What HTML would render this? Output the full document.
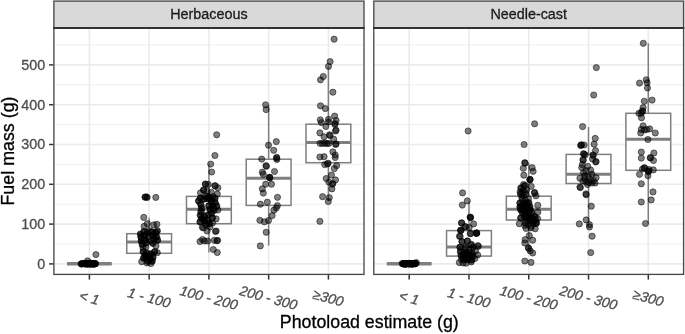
<!DOCTYPE html><html><head><meta charset="utf-8"><title>chart</title>
<style>html,body{margin:0;padding:0;background:#fff}svg{display:block;will-change:transform;opacity:0.9999}text{font-family:"Liberation Sans",sans-serif;stroke-width:0.3px;paint-order:stroke}</style></head><body>
<svg width="685" height="334" viewBox="0 0 685 334">
<rect x="0" y="0" width="685" height="334" fill="#fff"/>
<defs><filter id="soft" x="0" y="0" width="685" height="334" filterUnits="userSpaceOnUse"><feGaussianBlur stdDeviation="0.45"/></filter></defs>
<g filter="url(#soft)">
<rect x="-5" y="-5" width="695" height="344" fill="#fff"/>
<rect x="53.9" y="28.0" width="310.1" height="246.4" fill="#fff"/>
<line x1="53.9" x2="364.0" y1="244.00" y2="244.00" stroke="#EBEBEB" stroke-width="0.85"/>
<line x1="53.9" x2="364.0" y1="204.20" y2="204.20" stroke="#EBEBEB" stroke-width="0.85"/>
<line x1="53.9" x2="364.0" y1="164.40" y2="164.40" stroke="#EBEBEB" stroke-width="0.85"/>
<line x1="53.9" x2="364.0" y1="124.60" y2="124.60" stroke="#EBEBEB" stroke-width="0.85"/>
<line x1="53.9" x2="364.0" y1="84.80" y2="84.80" stroke="#EBEBEB" stroke-width="0.85"/>
<line x1="53.9" x2="364.0" y1="45.00" y2="45.00" stroke="#EBEBEB" stroke-width="0.85"/>
<line x1="53.9" x2="364.0" y1="263.90" y2="263.90" stroke="#EBEBEB" stroke-width="1.6"/>
<line x1="53.9" x2="364.0" y1="224.10" y2="224.10" stroke="#EBEBEB" stroke-width="1.6"/>
<line x1="53.9" x2="364.0" y1="184.30" y2="184.30" stroke="#EBEBEB" stroke-width="1.6"/>
<line x1="53.9" x2="364.0" y1="144.50" y2="144.50" stroke="#EBEBEB" stroke-width="1.6"/>
<line x1="53.9" x2="364.0" y1="104.70" y2="104.70" stroke="#EBEBEB" stroke-width="1.6"/>
<line x1="53.9" x2="364.0" y1="64.90" y2="64.90" stroke="#EBEBEB" stroke-width="1.6"/>
<line x1="89.40" x2="89.40" y1="28.0" y2="274.4" stroke="#EBEBEB" stroke-width="1.6"/>
<line x1="149.15" x2="149.15" y1="28.0" y2="274.4" stroke="#EBEBEB" stroke-width="1.6"/>
<line x1="208.90" x2="208.90" y1="28.0" y2="274.4" stroke="#EBEBEB" stroke-width="1.6"/>
<line x1="268.65" x2="268.65" y1="28.0" y2="274.4" stroke="#EBEBEB" stroke-width="1.6"/>
<line x1="328.40" x2="328.40" y1="28.0" y2="274.4" stroke="#EBEBEB" stroke-width="1.6"/>
<line x1="66.99" x2="111.81" y1="263.7" y2="263.7" stroke="#7F7F7F" stroke-width="3.4"/>
<line x1="149.15" x2="149.15" y1="217.7" y2="233.7" stroke="#7F7F7F" stroke-width="1.5"/>
<line x1="149.15" x2="149.15" y1="253.3" y2="263.5" stroke="#7F7F7F" stroke-width="1.5"/>
<rect x="126.74" y="233.7" width="44.81" height="19.60" fill="#fff" stroke="#7F7F7F" stroke-width="1.5"/>
<line x1="126.74" x2="171.56" y1="242.0" y2="242.0" stroke="#7F7F7F" stroke-width="3"/>
<line x1="208.90" x2="208.90" y1="164.2" y2="196.4" stroke="#7F7F7F" stroke-width="1.5"/>
<line x1="208.90" x2="208.90" y1="223.7" y2="252.5" stroke="#7F7F7F" stroke-width="1.5"/>
<rect x="186.49" y="196.4" width="44.81" height="27.30" fill="#fff" stroke="#7F7F7F" stroke-width="1.5"/>
<line x1="186.49" x2="231.31" y1="209.2" y2="209.2" stroke="#7F7F7F" stroke-width="3"/>
<line x1="268.65" x2="268.65" y1="105.0" y2="159.2" stroke="#7F7F7F" stroke-width="1.5"/>
<line x1="268.65" x2="268.65" y1="205.4" y2="245.6" stroke="#7F7F7F" stroke-width="1.5"/>
<rect x="246.24" y="159.2" width="44.81" height="46.20" fill="#fff" stroke="#7F7F7F" stroke-width="1.5"/>
<line x1="246.24" x2="291.06" y1="178.3" y2="178.3" stroke="#7F7F7F" stroke-width="3"/>
<line x1="328.40" x2="328.40" y1="66.4" y2="124.2" stroke="#7F7F7F" stroke-width="1.5"/>
<line x1="328.40" x2="328.40" y1="162.7" y2="200.6" stroke="#7F7F7F" stroke-width="1.5"/>
<rect x="305.99" y="124.2" width="44.81" height="38.50" fill="#fff" stroke="#7F7F7F" stroke-width="1.5"/>
<line x1="305.99" x2="350.81" y1="142.5" y2="142.5" stroke="#7F7F7F" stroke-width="3"/>
<rect x="373.8" y="28.0" width="309.8" height="246.4" fill="#fff"/>
<line x1="373.8" x2="683.6" y1="244.00" y2="244.00" stroke="#EBEBEB" stroke-width="0.85"/>
<line x1="373.8" x2="683.6" y1="204.20" y2="204.20" stroke="#EBEBEB" stroke-width="0.85"/>
<line x1="373.8" x2="683.6" y1="164.40" y2="164.40" stroke="#EBEBEB" stroke-width="0.85"/>
<line x1="373.8" x2="683.6" y1="124.60" y2="124.60" stroke="#EBEBEB" stroke-width="0.85"/>
<line x1="373.8" x2="683.6" y1="84.80" y2="84.80" stroke="#EBEBEB" stroke-width="0.85"/>
<line x1="373.8" x2="683.6" y1="45.00" y2="45.00" stroke="#EBEBEB" stroke-width="0.85"/>
<line x1="373.8" x2="683.6" y1="263.90" y2="263.90" stroke="#EBEBEB" stroke-width="1.6"/>
<line x1="373.8" x2="683.6" y1="224.10" y2="224.10" stroke="#EBEBEB" stroke-width="1.6"/>
<line x1="373.8" x2="683.6" y1="184.30" y2="184.30" stroke="#EBEBEB" stroke-width="1.6"/>
<line x1="373.8" x2="683.6" y1="144.50" y2="144.50" stroke="#EBEBEB" stroke-width="1.6"/>
<line x1="373.8" x2="683.6" y1="104.70" y2="104.70" stroke="#EBEBEB" stroke-width="1.6"/>
<line x1="373.8" x2="683.6" y1="64.90" y2="64.90" stroke="#EBEBEB" stroke-width="1.6"/>
<line x1="409.20" x2="409.20" y1="28.0" y2="274.4" stroke="#EBEBEB" stroke-width="1.6"/>
<line x1="468.97" x2="468.97" y1="28.0" y2="274.4" stroke="#EBEBEB" stroke-width="1.6"/>
<line x1="528.75" x2="528.75" y1="28.0" y2="274.4" stroke="#EBEBEB" stroke-width="1.6"/>
<line x1="588.52" x2="588.52" y1="28.0" y2="274.4" stroke="#EBEBEB" stroke-width="1.6"/>
<line x1="648.30" x2="648.30" y1="28.0" y2="274.4" stroke="#EBEBEB" stroke-width="1.6"/>
<line x1="386.78" x2="431.62" y1="263.7" y2="263.7" stroke="#7F7F7F" stroke-width="3.4"/>
<line x1="468.97" x2="468.97" y1="201.5" y2="230.6" stroke="#7F7F7F" stroke-width="1.5"/>
<line x1="468.97" x2="468.97" y1="256.1" y2="263.5" stroke="#7F7F7F" stroke-width="1.5"/>
<rect x="446.56" y="230.6" width="44.83" height="25.50" fill="#fff" stroke="#7F7F7F" stroke-width="1.5"/>
<line x1="446.56" x2="491.39" y1="247.0" y2="247.0" stroke="#7F7F7F" stroke-width="3"/>
<line x1="528.75" x2="528.75" y1="163.0" y2="196.2" stroke="#7F7F7F" stroke-width="1.5"/>
<line x1="528.75" x2="528.75" y1="220.0" y2="252.8" stroke="#7F7F7F" stroke-width="1.5"/>
<rect x="506.33" y="196.2" width="44.83" height="23.80" fill="#fff" stroke="#7F7F7F" stroke-width="1.5"/>
<line x1="506.33" x2="551.17" y1="209.3" y2="209.3" stroke="#7F7F7F" stroke-width="3"/>
<line x1="588.52" x2="588.52" y1="127.1" y2="154.4" stroke="#7F7F7F" stroke-width="1.5"/>
<line x1="588.52" x2="588.52" y1="183.5" y2="226.0" stroke="#7F7F7F" stroke-width="1.5"/>
<rect x="566.11" y="154.4" width="44.83" height="29.10" fill="#fff" stroke="#7F7F7F" stroke-width="1.5"/>
<line x1="566.11" x2="610.94" y1="174.2" y2="174.2" stroke="#7F7F7F" stroke-width="3"/>
<line x1="648.30" x2="648.30" y1="43.3" y2="113.3" stroke="#7F7F7F" stroke-width="1.5"/>
<line x1="648.30" x2="648.30" y1="170.3" y2="223.5" stroke="#7F7F7F" stroke-width="1.5"/>
<rect x="625.88" y="113.3" width="44.83" height="57.00" fill="#fff" stroke="#7F7F7F" stroke-width="1.5"/>
<line x1="625.88" x2="670.72" y1="139.3" y2="139.3" stroke="#7F7F7F" stroke-width="3"/>
<g fill="#000" fill-opacity="0.5" stroke="#000" stroke-opacity="0.5" stroke-width="1">
<circle cx="84.5" cy="263.7" r="3.1"/>
<circle cx="86.4" cy="263.8" r="3.1"/>
<circle cx="90.1" cy="263.4" r="3.1"/>
<circle cx="81.2" cy="263.9" r="3.1"/>
<circle cx="84.8" cy="263.5" r="3.1"/>
<circle cx="95.5" cy="263.7" r="3.1"/>
<circle cx="93.2" cy="263.7" r="3.1"/>
<circle cx="90.3" cy="263.5" r="3.1"/>
<circle cx="90.3" cy="263.9" r="3.1"/>
<circle cx="88.6" cy="263.8" r="3.1"/>
<circle cx="90.8" cy="263.4" r="3.1"/>
<circle cx="92.1" cy="263.8" r="3.1"/>
<circle cx="85.4" cy="263.4" r="3.1"/>
<circle cx="93.6" cy="263.7" r="3.1"/>
<circle cx="91.5" cy="263.9" r="3.1"/>
<circle cx="91.4" cy="264.0" r="3.1"/>
<circle cx="86.8" cy="263.9" r="3.1"/>
<circle cx="87.5" cy="264.0" r="3.1"/>
<circle cx="93.8" cy="263.5" r="3.1"/>
<circle cx="83.0" cy="263.5" r="3.1"/>
<circle cx="95.1" cy="263.7" r="3.1"/>
<circle cx="90.1" cy="263.6" r="3.1"/>
<circle cx="88.4" cy="263.6" r="3.1"/>
<circle cx="86.1" cy="263.8" r="3.1"/>
<circle cx="89.5" cy="263.9" r="3.1"/>
<circle cx="91.0" cy="264.0" r="3.1"/>
<circle cx="93.5" cy="264.0" r="3.1"/>
<circle cx="90.8" cy="263.5" r="3.1"/>
<circle cx="93.6" cy="264.0" r="3.1"/>
<circle cx="94.2" cy="263.7" r="3.1"/>
<circle cx="91.4" cy="263.5" r="3.1"/>
<circle cx="93.1" cy="263.7" r="3.1"/>
<circle cx="85.2" cy="263.4" r="3.1"/>
<circle cx="93.5" cy="264.0" r="3.1"/>
<circle cx="82.3" cy="263.9" r="3.1"/>
<circle cx="87.0" cy="263.5" r="3.1"/>
<circle cx="85.3" cy="263.9" r="3.1"/>
<circle cx="93.7" cy="263.4" r="3.1"/>
<circle cx="90.0" cy="263.4" r="3.1"/>
<circle cx="91.5" cy="263.6" r="3.1"/>
<circle cx="93.9" cy="264.0" r="3.1"/>
<circle cx="88.4" cy="264.0" r="3.1"/>
<circle cx="85.5" cy="263.4" r="3.1"/>
<circle cx="89.8" cy="263.4" r="3.1"/>
<circle cx="83.9" cy="263.6" r="3.1"/>
<circle cx="89.9" cy="263.5" r="3.1"/>
<circle cx="81.6" cy="263.9" r="3.1"/>
<circle cx="85.6" cy="264.0" r="3.1"/>
<circle cx="94.1" cy="263.6" r="3.1"/>
<circle cx="87.7" cy="263.7" r="3.1"/>
<circle cx="90.4" cy="263.8" r="3.1"/>
<circle cx="89.2" cy="263.8" r="3.1"/>
<circle cx="94.7" cy="263.7" r="3.1"/>
<circle cx="87.3" cy="263.8" r="3.1"/>
<circle cx="84.5" cy="263.6" r="3.1"/>
<circle cx="95.3" cy="263.7" r="3.1"/>
<circle cx="89.0" cy="263.4" r="3.1"/>
<circle cx="87.1" cy="263.7" r="3.1"/>
<circle cx="81.3" cy="263.8" r="3.1"/>
<circle cx="90.2" cy="263.4" r="3.1"/>
<circle cx="95.9" cy="254.6" r="3.1"/>
<circle cx="87.6" cy="260.9" r="3.1"/>
<circle cx="145.1" cy="197.2" r="3.1"/>
<circle cx="145.1" cy="197.1" r="3.1"/>
<circle cx="147.2" cy="197.5" r="3.1"/>
<circle cx="146.6" cy="196.9" r="3.1"/>
<circle cx="155.8" cy="197.4" r="3.1"/>
<circle cx="143.8" cy="217.4" r="3.1"/>
<circle cx="144.1" cy="226.4" r="3.1"/>
<circle cx="147.3" cy="223.7" r="3.1"/>
<circle cx="153.7" cy="224.9" r="3.1"/>
<circle cx="156.9" cy="224.3" r="3.1"/>
<circle cx="140.7" cy="234.5" r="3.1"/>
<circle cx="140.3" cy="234.0" r="3.1"/>
<circle cx="141.1" cy="237.3" r="3.1"/>
<circle cx="140.9" cy="237.3" r="3.1"/>
<circle cx="141.4" cy="241.1" r="3.1"/>
<circle cx="141.3" cy="240.9" r="3.1"/>
<circle cx="142.3" cy="244.0" r="3.1"/>
<circle cx="142.1" cy="244.7" r="3.1"/>
<circle cx="143.8" cy="231.7" r="3.1"/>
<circle cx="144.3" cy="231.7" r="3.1"/>
<circle cx="144.2" cy="235.9" r="3.1"/>
<circle cx="144.7" cy="235.6" r="3.1"/>
<circle cx="144.8" cy="239.8" r="3.1"/>
<circle cx="145.3" cy="239.9" r="3.1"/>
<circle cx="146.4" cy="242.7" r="3.1"/>
<circle cx="145.8" cy="243.2" r="3.1"/>
<circle cx="147.9" cy="233.0" r="3.1"/>
<circle cx="147.2" cy="232.6" r="3.1"/>
<circle cx="148.0" cy="236.7" r="3.1"/>
<circle cx="148.3" cy="237.3" r="3.1"/>
<circle cx="151.7" cy="231.8" r="3.1"/>
<circle cx="152.3" cy="232.1" r="3.1"/>
<circle cx="153.3" cy="235.3" r="3.1"/>
<circle cx="152.6" cy="235.3" r="3.1"/>
<circle cx="154.3" cy="238.8" r="3.1"/>
<circle cx="153.8" cy="238.9" r="3.1"/>
<circle cx="155.4" cy="232.9" r="3.1"/>
<circle cx="155.9" cy="232.7" r="3.1"/>
<circle cx="156.0" cy="236.9" r="3.1"/>
<circle cx="156.9" cy="237.0" r="3.1"/>
<circle cx="156.9" cy="231.5" r="3.1"/>
<circle cx="157.4" cy="230.7" r="3.1"/>
<circle cx="157.5" cy="240.3" r="3.1"/>
<circle cx="157.5" cy="240.0" r="3.1"/>
<circle cx="152.8" cy="243.3" r="3.1"/>
<circle cx="152.7" cy="243.1" r="3.1"/>
<circle cx="151.0" cy="241.0" r="3.1"/>
<circle cx="149.5" cy="230.5" r="3.1"/>
<circle cx="143.0" cy="248.0" r="3.1"/>
<circle cx="146.0" cy="247.0" r="3.1"/>
<circle cx="156.0" cy="246.0" r="3.1"/>
<circle cx="143.1" cy="251.8" r="3.1"/>
<circle cx="143.3" cy="251.5" r="3.1"/>
<circle cx="145.4" cy="255.2" r="3.1"/>
<circle cx="145.4" cy="255.4" r="3.1"/>
<circle cx="147.4" cy="253.1" r="3.1"/>
<circle cx="146.5" cy="253.2" r="3.1"/>
<circle cx="148.7" cy="255.8" r="3.1"/>
<circle cx="149.2" cy="256.0" r="3.1"/>
<circle cx="150.9" cy="254.4" r="3.1"/>
<circle cx="151.1" cy="253.8" r="3.1"/>
<circle cx="152.8" cy="257.4" r="3.1"/>
<circle cx="153.0" cy="257.3" r="3.1"/>
<circle cx="149.9" cy="259.2" r="3.1"/>
<circle cx="150.0" cy="259.8" r="3.1"/>
<circle cx="147.7" cy="261.3" r="3.1"/>
<circle cx="148.4" cy="261.3" r="3.1"/>
<circle cx="152.3" cy="260.5" r="3.1"/>
<circle cx="152.1" cy="261.4" r="3.1"/>
<circle cx="145.5" cy="257.8" r="3.1"/>
<circle cx="145.8" cy="258.0" r="3.1"/>
<circle cx="154.4" cy="252.0" r="3.1"/>
<circle cx="154.8" cy="251.5" r="3.1"/>
<circle cx="143.6" cy="258.1" r="3.1"/>
<circle cx="143.6" cy="258.1" r="3.1"/>
<circle cx="157.3" cy="252.7" r="3.1"/>
<circle cx="141.7" cy="261.7" r="3.1"/>
<circle cx="147.0" cy="263.0" r="3.1"/>
<circle cx="151.0" cy="263.5" r="3.1"/>
<circle cx="216.7" cy="134.8" r="3.1"/>
<circle cx="214.9" cy="155.5" r="3.1"/>
<circle cx="210.7" cy="164.1" r="3.1"/>
<circle cx="211.7" cy="172.0" r="3.1"/>
<circle cx="205.3" cy="184.0" r="3.1"/>
<circle cx="208.3" cy="184.5" r="3.1"/>
<circle cx="214.9" cy="185.7" r="3.1"/>
<circle cx="217.9" cy="187.8" r="3.1"/>
<circle cx="200.5" cy="192.9" r="3.1"/>
<circle cx="203.5" cy="189.9" r="3.1"/>
<circle cx="207.1" cy="191.0" r="3.1"/>
<circle cx="211.3" cy="192.3" r="3.1"/>
<circle cx="217.3" cy="194.1" r="3.1"/>
<circle cx="205.9" cy="196.0" r="3.1"/>
<circle cx="209.5" cy="197.0" r="3.1"/>
<circle cx="213.0" cy="196.5" r="3.1"/>
<circle cx="205.5" cy="184.3" r="3.1"/>
<circle cx="215.2" cy="186.0" r="3.1"/>
<circle cx="203.8" cy="190.2" r="3.1"/>
<circle cx="207.4" cy="196.4" r="3.1"/>
<circle cx="200.4" cy="197.9" r="3.1"/>
<circle cx="200.5" cy="198.2" r="3.1"/>
<circle cx="198.6" cy="201.2" r="3.1"/>
<circle cx="198.7" cy="200.7" r="3.1"/>
<circle cx="201.0" cy="204.7" r="3.1"/>
<circle cx="200.6" cy="204.4" r="3.1"/>
<circle cx="201.4" cy="208.4" r="3.1"/>
<circle cx="201.9" cy="207.9" r="3.1"/>
<circle cx="201.4" cy="211.8" r="3.1"/>
<circle cx="200.8" cy="211.5" r="3.1"/>
<circle cx="200.1" cy="215.3" r="3.1"/>
<circle cx="200.7" cy="215.4" r="3.1"/>
<circle cx="201.8" cy="218.7" r="3.1"/>
<circle cx="201.7" cy="218.6" r="3.1"/>
<circle cx="200.1" cy="222.1" r="3.1"/>
<circle cx="200.0" cy="221.6" r="3.1"/>
<circle cx="204.3" cy="199.0" r="3.1"/>
<circle cx="203.6" cy="199.1" r="3.1"/>
<circle cx="207.9" cy="198.2" r="3.1"/>
<circle cx="207.0" cy="198.8" r="3.1"/>
<circle cx="210.6" cy="199.3" r="3.1"/>
<circle cx="211.2" cy="199.3" r="3.1"/>
<circle cx="215.0" cy="198.6" r="3.1"/>
<circle cx="214.8" cy="198.0" r="3.1"/>
<circle cx="204.8" cy="221.0" r="3.1"/>
<circle cx="204.7" cy="220.6" r="3.1"/>
<circle cx="208.2" cy="220.4" r="3.1"/>
<circle cx="207.6" cy="219.8" r="3.1"/>
<circle cx="206.1" cy="224.8" r="3.1"/>
<circle cx="205.7" cy="224.2" r="3.1"/>
<circle cx="209.2" cy="223.6" r="3.1"/>
<circle cx="209.8" cy="223.4" r="3.1"/>
<circle cx="204.4" cy="216.4" r="3.1"/>
<circle cx="204.4" cy="216.4" r="3.1"/>
<circle cx="207.6" cy="215.0" r="3.1"/>
<circle cx="208.5" cy="214.9" r="3.1"/>
<circle cx="211.7" cy="202.7" r="3.1"/>
<circle cx="211.7" cy="203.3" r="3.1"/>
<circle cx="215.2" cy="202.5" r="3.1"/>
<circle cx="215.0" cy="202.6" r="3.1"/>
<circle cx="213.4" cy="206.1" r="3.1"/>
<circle cx="212.6" cy="206.7" r="3.1"/>
<circle cx="216.9" cy="206.0" r="3.1"/>
<circle cx="216.4" cy="206.2" r="3.1"/>
<circle cx="210.2" cy="209.3" r="3.1"/>
<circle cx="210.2" cy="209.6" r="3.1"/>
<circle cx="213.8" cy="209.7" r="3.1"/>
<circle cx="214.2" cy="210.5" r="3.1"/>
<circle cx="208.8" cy="205.7" r="3.1"/>
<circle cx="208.9" cy="205.9" r="3.1"/>
<circle cx="211.6" cy="213.3" r="3.1"/>
<circle cx="211.2" cy="213.0" r="3.1"/>
<circle cx="212.5" cy="217.9" r="3.1"/>
<circle cx="212.2" cy="217.9" r="3.1"/>
<circle cx="202.3" cy="227.3" r="3.1"/>
<circle cx="217.9" cy="210.0" r="3.1"/>
<circle cx="216.1" cy="218.9" r="3.1"/>
<circle cx="212.5" cy="223.0" r="3.1"/>
<circle cx="210.0" cy="227.0" r="3.1"/>
<circle cx="216.1" cy="231.0" r="3.1"/>
<circle cx="215.5" cy="231.5" r="3.1"/>
<circle cx="207.1" cy="231.0" r="3.1"/>
<circle cx="203.5" cy="228.0" r="3.1"/>
<circle cx="200.0" cy="241.5" r="3.1"/>
<circle cx="202.5" cy="239.5" r="3.1"/>
<circle cx="204.5" cy="241.0" r="3.1"/>
<circle cx="207.7" cy="241.0" r="3.1"/>
<circle cx="214.3" cy="240.3" r="3.1"/>
<circle cx="217.6" cy="240.3" r="3.1"/>
<circle cx="217.0" cy="240.8" r="3.1"/>
<circle cx="213.3" cy="249.5" r="3.1"/>
<circle cx="217.3" cy="252.5" r="3.1"/>
<circle cx="265.6" cy="104.8" r="3.1"/>
<circle cx="266.1" cy="109.6" r="3.1"/>
<circle cx="276.3" cy="141.6" r="3.1"/>
<circle cx="268.5" cy="145.2" r="3.1"/>
<circle cx="273.7" cy="150.3" r="3.1"/>
<circle cx="276.7" cy="157.3" r="3.1"/>
<circle cx="276.9" cy="159.5" r="3.1"/>
<circle cx="276.5" cy="158.2" r="3.1"/>
<circle cx="261.7" cy="159.1" r="3.1"/>
<circle cx="265.9" cy="165.7" r="3.1"/>
<circle cx="266.5" cy="166.3" r="3.1"/>
<circle cx="274.5" cy="171.5" r="3.1"/>
<circle cx="262.3" cy="172.2" r="3.1"/>
<circle cx="263.3" cy="174.3" r="3.1"/>
<circle cx="269.7" cy="177.6" r="3.1"/>
<circle cx="269.9" cy="177.9" r="3.1"/>
<circle cx="269.5" cy="177.2" r="3.1"/>
<circle cx="265.7" cy="184.2" r="3.1"/>
<circle cx="271.5" cy="184.2" r="3.1"/>
<circle cx="262.3" cy="188.9" r="3.1"/>
<circle cx="263.3" cy="193.1" r="3.1"/>
<circle cx="277.5" cy="197.3" r="3.1"/>
<circle cx="267.3" cy="202.2" r="3.1"/>
<circle cx="260.4" cy="204.2" r="3.1"/>
<circle cx="277.4" cy="205.6" r="3.1"/>
<circle cx="276.3" cy="208.0" r="3.1"/>
<circle cx="273.9" cy="210.2" r="3.1"/>
<circle cx="272.1" cy="215.6" r="3.1"/>
<circle cx="259.9" cy="220.3" r="3.1"/>
<circle cx="264.4" cy="221.8" r="3.1"/>
<circle cx="268.5" cy="220.6" r="3.1"/>
<circle cx="266.2" cy="232.3" r="3.1"/>
<circle cx="260.3" cy="245.9" r="3.1"/>
<circle cx="334.1" cy="39.2" r="3.1"/>
<circle cx="330.1" cy="61.6" r="3.1"/>
<circle cx="328.5" cy="66.4" r="3.1"/>
<circle cx="323.3" cy="76.5" r="3.1"/>
<circle cx="320.5" cy="79.8" r="3.1"/>
<circle cx="332.9" cy="92.2" r="3.1"/>
<circle cx="320.5" cy="105.8" r="3.1"/>
<circle cx="325.3" cy="108.6" r="3.1"/>
<circle cx="334.6" cy="116.1" r="3.1"/>
<circle cx="320.3" cy="119.9" r="3.1"/>
<circle cx="321.4" cy="122.6" r="3.1"/>
<circle cx="328.5" cy="119.3" r="3.1"/>
<circle cx="328.5" cy="122.0" r="3.1"/>
<circle cx="336.1" cy="120.5" r="3.1"/>
<circle cx="335.0" cy="123.5" r="3.1"/>
<circle cx="325.9" cy="126.5" r="3.1"/>
<circle cx="334.9" cy="124.5" r="3.1"/>
<circle cx="319.9" cy="132.9" r="3.1"/>
<circle cx="336.1" cy="130.2" r="3.1"/>
<circle cx="335.5" cy="131.0" r="3.1"/>
<circle cx="324.1" cy="136.8" r="3.1"/>
<circle cx="330.1" cy="135.6" r="3.1"/>
<circle cx="329.5" cy="134.8" r="3.1"/>
<circle cx="333.7" cy="139.2" r="3.1"/>
<circle cx="320.0" cy="143.3" r="3.1"/>
<circle cx="322.5" cy="143.5" r="3.1"/>
<circle cx="325.0" cy="143.2" r="3.1"/>
<circle cx="327.0" cy="143.6" r="3.1"/>
<circle cx="329.0" cy="143.3" r="3.1"/>
<circle cx="336.1" cy="143.9" r="3.1"/>
<circle cx="335.6" cy="144.4" r="3.1"/>
<circle cx="332.9" cy="151.9" r="3.1"/>
<circle cx="335.2" cy="155.0" r="3.1"/>
<circle cx="335.2" cy="157.5" r="3.1"/>
<circle cx="319.9" cy="157.0" r="3.1"/>
<circle cx="324.1" cy="156.7" r="3.1"/>
<circle cx="324.7" cy="164.6" r="3.1"/>
<circle cx="328.1" cy="163.2" r="3.1"/>
<circle cx="327.5" cy="164.0" r="3.1"/>
<circle cx="336.7" cy="165.6" r="3.1"/>
<circle cx="334.3" cy="168.6" r="3.1"/>
<circle cx="331.5" cy="175.1" r="3.1"/>
<circle cx="326.2" cy="178.5" r="3.1"/>
<circle cx="335.5" cy="179.9" r="3.1"/>
<circle cx="328.9" cy="182.1" r="3.1"/>
<circle cx="332.9" cy="183.5" r="3.1"/>
<circle cx="332.3" cy="184.2" r="3.1"/>
<circle cx="331.9" cy="188.9" r="3.1"/>
<circle cx="322.6" cy="196.7" r="3.1"/>
<circle cx="329.3" cy="197.6" r="3.1"/>
<circle cx="328.3" cy="201.5" r="3.1"/>
<circle cx="319.9" cy="221.3" r="3.1"/>
<circle cx="406.5" cy="263.9" r="3.1"/>
<circle cx="404.0" cy="264.0" r="3.1"/>
<circle cx="408.7" cy="263.8" r="3.1"/>
<circle cx="408.6" cy="263.9" r="3.1"/>
<circle cx="413.5" cy="263.7" r="3.1"/>
<circle cx="408.7" cy="263.8" r="3.1"/>
<circle cx="414.0" cy="263.6" r="3.1"/>
<circle cx="412.3" cy="264.0" r="3.1"/>
<circle cx="408.5" cy="263.5" r="3.1"/>
<circle cx="405.3" cy="263.8" r="3.1"/>
<circle cx="411.5" cy="264.0" r="3.1"/>
<circle cx="414.0" cy="263.5" r="3.1"/>
<circle cx="404.7" cy="263.6" r="3.1"/>
<circle cx="404.6" cy="263.8" r="3.1"/>
<circle cx="414.0" cy="263.9" r="3.1"/>
<circle cx="405.6" cy="263.9" r="3.1"/>
<circle cx="406.4" cy="263.7" r="3.1"/>
<circle cx="412.2" cy="263.5" r="3.1"/>
<circle cx="403.3" cy="263.9" r="3.1"/>
<circle cx="406.1" cy="263.6" r="3.1"/>
<circle cx="410.1" cy="263.8" r="3.1"/>
<circle cx="402.1" cy="263.6" r="3.1"/>
<circle cx="408.1" cy="263.7" r="3.1"/>
<circle cx="404.9" cy="263.8" r="3.1"/>
<circle cx="415.4" cy="263.6" r="3.1"/>
<circle cx="409.6" cy="263.5" r="3.1"/>
<circle cx="405.8" cy="263.8" r="3.1"/>
<circle cx="403.6" cy="263.9" r="3.1"/>
<circle cx="414.7" cy="263.5" r="3.1"/>
<circle cx="415.2" cy="263.6" r="3.1"/>
<circle cx="412.8" cy="263.9" r="3.1"/>
<circle cx="406.1" cy="263.8" r="3.1"/>
<circle cx="411.2" cy="263.9" r="3.1"/>
<circle cx="405.7" cy="263.9" r="3.1"/>
<circle cx="415.5" cy="263.8" r="3.1"/>
<circle cx="409.5" cy="263.5" r="3.1"/>
<circle cx="408.9" cy="263.6" r="3.1"/>
<circle cx="412.1" cy="263.8" r="3.1"/>
<circle cx="409.9" cy="263.5" r="3.1"/>
<circle cx="411.0" cy="263.8" r="3.1"/>
<circle cx="404.5" cy="263.9" r="3.1"/>
<circle cx="411.2" cy="263.5" r="3.1"/>
<circle cx="415.0" cy="263.5" r="3.1"/>
<circle cx="406.6" cy="263.8" r="3.1"/>
<circle cx="410.4" cy="263.7" r="3.1"/>
<circle cx="411.1" cy="263.7" r="3.1"/>
<circle cx="406.4" cy="263.5" r="3.1"/>
<circle cx="403.0" cy="263.8" r="3.1"/>
<circle cx="412.6" cy="263.7" r="3.1"/>
<circle cx="412.4" cy="263.6" r="3.1"/>
<circle cx="405.7" cy="263.6" r="3.1"/>
<circle cx="414.2" cy="263.4" r="3.1"/>
<circle cx="409.1" cy="263.5" r="3.1"/>
<circle cx="412.8" cy="263.6" r="3.1"/>
<circle cx="406.7" cy="263.6" r="3.1"/>
<circle cx="409.6" cy="263.9" r="3.1"/>
<circle cx="406.9" cy="263.9" r="3.1"/>
<circle cx="403.6" cy="263.6" r="3.1"/>
<circle cx="403.4" cy="263.5" r="3.1"/>
<circle cx="412.9" cy="263.8" r="3.1"/>
<circle cx="416.3" cy="262.6" r="3.1"/>
<circle cx="468.1" cy="131.0" r="3.1"/>
<circle cx="462.6" cy="192.9" r="3.1"/>
<circle cx="467.3" cy="200.9" r="3.1"/>
<circle cx="462.3" cy="205.1" r="3.1"/>
<circle cx="470.1" cy="217.1" r="3.1"/>
<circle cx="470.3" cy="217.5" r="3.1"/>
<circle cx="470.7" cy="217.5" r="3.1"/>
<circle cx="461.8" cy="222.8" r="3.1"/>
<circle cx="473.6" cy="223.9" r="3.1"/>
<circle cx="465.0" cy="226.7" r="3.1"/>
<circle cx="469.2" cy="227.5" r="3.1"/>
<circle cx="465.6" cy="226.8" r="3.1"/>
<circle cx="461.4" cy="223.0" r="3.1"/>
<circle cx="460.8" cy="230.6" r="3.1"/>
<circle cx="460.6" cy="230.3" r="3.1"/>
<circle cx="461.0" cy="230.1" r="3.1"/>
<circle cx="476.6" cy="233.3" r="3.1"/>
<circle cx="476.7" cy="232.8" r="3.1"/>
<circle cx="476.4" cy="233.0" r="3.1"/>
<circle cx="476.4" cy="233.4" r="3.1"/>
<circle cx="470.3" cy="233.5" r="3.1"/>
<circle cx="470.5" cy="233.7" r="3.1"/>
<circle cx="460.1" cy="236.2" r="3.1"/>
<circle cx="459.5" cy="236.3" r="3.1"/>
<circle cx="462.1" cy="241.5" r="3.1"/>
<circle cx="461.9" cy="241.5" r="3.1"/>
<circle cx="467.5" cy="241.0" r="3.1"/>
<circle cx="467.3" cy="241.0" r="3.1"/>
<circle cx="471.3" cy="244.3" r="3.1"/>
<circle cx="471.3" cy="244.9" r="3.1"/>
<circle cx="465.6" cy="247.2" r="3.1"/>
<circle cx="465.5" cy="247.7" r="3.1"/>
<circle cx="473.0" cy="247.5" r="3.1"/>
<circle cx="473.1" cy="247.2" r="3.1"/>
<circle cx="477.8" cy="245.6" r="3.1"/>
<circle cx="478.4" cy="246.3" r="3.1"/>
<circle cx="469.0" cy="249.5" r="3.1"/>
<circle cx="460.0" cy="247.2" r="3.1"/>
<circle cx="459.9" cy="247.2" r="3.1"/>
<circle cx="460.4" cy="251.4" r="3.1"/>
<circle cx="460.6" cy="251.9" r="3.1"/>
<circle cx="461.2" cy="255.7" r="3.1"/>
<circle cx="461.0" cy="255.3" r="3.1"/>
<circle cx="463.9" cy="253.1" r="3.1"/>
<circle cx="464.0" cy="252.4" r="3.1"/>
<circle cx="466.9" cy="253.5" r="3.1"/>
<circle cx="466.0" cy="252.9" r="3.1"/>
<circle cx="468.9" cy="252.4" r="3.1"/>
<circle cx="469.0" cy="252.8" r="3.1"/>
<circle cx="472.6" cy="253.9" r="3.1"/>
<circle cx="472.2" cy="254.0" r="3.1"/>
<circle cx="463.7" cy="256.0" r="3.1"/>
<circle cx="464.4" cy="255.9" r="3.1"/>
<circle cx="466.6" cy="257.6" r="3.1"/>
<circle cx="467.3" cy="256.8" r="3.1"/>
<circle cx="469.8" cy="256.3" r="3.1"/>
<circle cx="470.1" cy="255.9" r="3.1"/>
<circle cx="471.8" cy="256.8" r="3.1"/>
<circle cx="472.9" cy="256.7" r="3.1"/>
<circle cx="463.4" cy="259.1" r="3.1"/>
<circle cx="463.1" cy="259.0" r="3.1"/>
<circle cx="466.2" cy="259.7" r="3.1"/>
<circle cx="465.6" cy="259.7" r="3.1"/>
<circle cx="468.5" cy="259.6" r="3.1"/>
<circle cx="468.4" cy="258.9" r="3.1"/>
<circle cx="471.4" cy="260.2" r="3.1"/>
<circle cx="471.8" cy="259.7" r="3.1"/>
<circle cx="475.5" cy="251.0" r="3.1"/>
<circle cx="477.7" cy="255.0" r="3.1"/>
<circle cx="474.8" cy="258.6" r="3.1"/>
<circle cx="459.3" cy="262.6" r="3.1"/>
<circle cx="461.5" cy="259.5" r="3.1"/>
<circle cx="466.0" cy="263.2" r="3.1"/>
<circle cx="471.2" cy="261.9" r="3.1"/>
<circle cx="463.0" cy="263.0" r="3.1"/>
<circle cx="534.6" cy="123.8" r="3.1"/>
<circle cx="524.1" cy="144.5" r="3.1"/>
<circle cx="524.7" cy="162.7" r="3.1"/>
<circle cx="525.2" cy="163.2" r="3.1"/>
<circle cx="523.3" cy="168.3" r="3.1"/>
<circle cx="532.1" cy="167.7" r="3.1"/>
<circle cx="533.1" cy="171.3" r="3.1"/>
<circle cx="523.8" cy="175.2" r="3.1"/>
<circle cx="530.1" cy="179.5" r="3.1"/>
<circle cx="529.8" cy="180.0" r="3.1"/>
<circle cx="530.0" cy="179.3" r="3.1"/>
<circle cx="523.5" cy="184.5" r="3.1"/>
<circle cx="531.2" cy="186.3" r="3.1"/>
<circle cx="524.9" cy="185.3" r="3.1"/>
<circle cx="520.8" cy="187.8" r="3.1"/>
<circle cx="520.0" cy="192.0" r="3.1"/>
<circle cx="524.9" cy="192.1" r="3.1"/>
<circle cx="536.0" cy="195.8" r="3.1"/>
<circle cx="528.4" cy="198.7" r="3.1"/>
<circle cx="521.8" cy="197.0" r="3.1"/>
<circle cx="534.5" cy="192.6" r="3.1"/>
<circle cx="534.6" cy="192.7" r="3.1"/>
<circle cx="521.3" cy="188.3" r="3.1"/>
<circle cx="523.0" cy="190.5" r="3.1"/>
<circle cx="520.6" cy="194.5" r="3.1"/>
<circle cx="523.6" cy="195.6" r="3.1"/>
<circle cx="526.6" cy="189.8" r="3.1"/>
<circle cx="526.0" cy="194.3" r="3.1"/>
<circle cx="522.0" cy="199.8" r="3.1"/>
<circle cx="525.4" cy="200.2" r="3.1"/>
<circle cx="521.2" cy="192.6" r="3.1"/>
<circle cx="524.4" cy="186.2" r="3.1"/>
<circle cx="519.9" cy="203.0" r="3.1"/>
<circle cx="520.0" cy="203.2" r="3.1"/>
<circle cx="523.5" cy="203.4" r="3.1"/>
<circle cx="524.3" cy="203.9" r="3.1"/>
<circle cx="526.7" cy="204.0" r="3.1"/>
<circle cx="526.5" cy="202.7" r="3.1"/>
<circle cx="528.9" cy="202.7" r="3.1"/>
<circle cx="528.7" cy="203.6" r="3.1"/>
<circle cx="520.1" cy="206.5" r="3.1"/>
<circle cx="519.9" cy="207.1" r="3.1"/>
<circle cx="522.6" cy="206.4" r="3.1"/>
<circle cx="523.5" cy="205.7" r="3.1"/>
<circle cx="524.8" cy="207.4" r="3.1"/>
<circle cx="525.1" cy="207.8" r="3.1"/>
<circle cx="529.7" cy="206.8" r="3.1"/>
<circle cx="529.9" cy="206.6" r="3.1"/>
<circle cx="520.4" cy="209.4" r="3.1"/>
<circle cx="520.9" cy="209.8" r="3.1"/>
<circle cx="523.3" cy="209.6" r="3.1"/>
<circle cx="523.3" cy="209.3" r="3.1"/>
<circle cx="526.9" cy="208.8" r="3.1"/>
<circle cx="526.5" cy="209.8" r="3.1"/>
<circle cx="529.7" cy="209.8" r="3.1"/>
<circle cx="530.3" cy="209.9" r="3.1"/>
<circle cx="523.0" cy="213.2" r="3.1"/>
<circle cx="522.2" cy="212.7" r="3.1"/>
<circle cx="525.4" cy="212.3" r="3.1"/>
<circle cx="524.9" cy="212.3" r="3.1"/>
<circle cx="527.7" cy="212.6" r="3.1"/>
<circle cx="527.6" cy="213.4" r="3.1"/>
<circle cx="531.6" cy="212.9" r="3.1"/>
<circle cx="531.6" cy="212.3" r="3.1"/>
<circle cx="524.5" cy="216.9" r="3.1"/>
<circle cx="524.5" cy="216.0" r="3.1"/>
<circle cx="527.9" cy="214.8" r="3.1"/>
<circle cx="526.7" cy="216.0" r="3.1"/>
<circle cx="530.2" cy="216.6" r="3.1"/>
<circle cx="530.4" cy="217.1" r="3.1"/>
<circle cx="534.9" cy="216.7" r="3.1"/>
<circle cx="534.3" cy="216.4" r="3.1"/>
<circle cx="526.4" cy="218.5" r="3.1"/>
<circle cx="529.7" cy="218.5" r="3.1"/>
<circle cx="532.7" cy="218.3" r="3.1"/>
<circle cx="535.7" cy="219.0" r="3.1"/>
<circle cx="525.8" cy="222.0" r="3.1"/>
<circle cx="529.8" cy="221.2" r="3.1"/>
<circle cx="532.9" cy="221.8" r="3.1"/>
<circle cx="536.5" cy="223.4" r="3.1"/>
<circle cx="524.7" cy="225.4" r="3.1"/>
<circle cx="528.2" cy="224.8" r="3.1"/>
<circle cx="530.9" cy="226.3" r="3.1"/>
<circle cx="533.8" cy="224.1" r="3.1"/>
<circle cx="521.0" cy="217.9" r="3.1"/>
<circle cx="520.6" cy="218.0" r="3.1"/>
<circle cx="531.6" cy="220.3" r="3.1"/>
<circle cx="531.7" cy="220.6" r="3.1"/>
<circle cx="536.2" cy="222.7" r="3.1"/>
<circle cx="535.7" cy="222.7" r="3.1"/>
<circle cx="537.8" cy="205.3" r="3.1"/>
<circle cx="537.8" cy="212.2" r="3.1"/>
<circle cx="537.6" cy="218.6" r="3.1"/>
<circle cx="519.3" cy="223.7" r="3.1"/>
<circle cx="525.1" cy="222.9" r="3.1"/>
<circle cx="526.0" cy="228.4" r="3.1"/>
<circle cx="531.0" cy="227.9" r="3.1"/>
<circle cx="535.2" cy="228.8" r="3.1"/>
<circle cx="529.3" cy="235.5" r="3.1"/>
<circle cx="525.1" cy="239.7" r="3.1"/>
<circle cx="532.7" cy="240.2" r="3.1"/>
<circle cx="524.8" cy="243.0" r="3.1"/>
<circle cx="528.3" cy="247.8" r="3.1"/>
<circle cx="528.7" cy="248.3" r="3.1"/>
<circle cx="530.2" cy="250.9" r="3.1"/>
<circle cx="532.7" cy="253.0" r="3.1"/>
<circle cx="524.8" cy="261.0" r="3.1"/>
<circle cx="531.0" cy="262.4" r="3.1"/>
<circle cx="596.3" cy="67.6" r="3.1"/>
<circle cx="593.7" cy="95.0" r="3.1"/>
<circle cx="582.6" cy="126.6" r="3.1"/>
<circle cx="595.2" cy="138.4" r="3.1"/>
<circle cx="594.1" cy="144.2" r="3.1"/>
<circle cx="581.1" cy="145.1" r="3.1"/>
<circle cx="580.6" cy="145.5" r="3.1"/>
<circle cx="581.6" cy="144.8" r="3.1"/>
<circle cx="584.1" cy="145.0" r="3.1"/>
<circle cx="595.5" cy="150.7" r="3.1"/>
<circle cx="583.5" cy="153.7" r="3.1"/>
<circle cx="583.9" cy="154.2" r="3.1"/>
<circle cx="585.3" cy="154.9" r="3.1"/>
<circle cx="592.9" cy="154.9" r="3.1"/>
<circle cx="593.3" cy="155.5" r="3.1"/>
<circle cx="582.9" cy="159.7" r="3.1"/>
<circle cx="583.3" cy="160.3" r="3.1"/>
<circle cx="596.1" cy="161.5" r="3.1"/>
<circle cx="595.7" cy="162.0" r="3.1"/>
<circle cx="592.5" cy="158.9" r="3.1"/>
<circle cx="582.3" cy="164.6" r="3.1"/>
<circle cx="581.7" cy="167.6" r="3.1"/>
<circle cx="587.7" cy="166.4" r="3.1"/>
<circle cx="590.7" cy="170.0" r="3.1"/>
<circle cx="585.9" cy="170.6" r="3.1"/>
<circle cx="583.5" cy="172.5" r="3.1"/>
<circle cx="591.9" cy="174.2" r="3.1"/>
<circle cx="596.1" cy="177.7" r="3.1"/>
<circle cx="579.9" cy="178.3" r="3.1"/>
<circle cx="584.7" cy="176.0" r="3.1"/>
<circle cx="588.3" cy="176.5" r="3.1"/>
<circle cx="583.0" cy="181.0" r="3.1"/>
<circle cx="586.0" cy="182.0" r="3.1"/>
<circle cx="589.0" cy="182.5" r="3.1"/>
<circle cx="592.0" cy="183.0" r="3.1"/>
<circle cx="595.0" cy="183.0" r="3.1"/>
<circle cx="590.0" cy="179.5" r="3.1"/>
<circle cx="585.0" cy="179.0" r="3.1"/>
<circle cx="587.5" cy="184.5" r="3.1"/>
<circle cx="593.5" cy="180.5" r="3.1"/>
<circle cx="579.9" cy="187.1" r="3.1"/>
<circle cx="580.4" cy="187.6" r="3.1"/>
<circle cx="585.9" cy="193.9" r="3.1"/>
<circle cx="586.2" cy="194.8" r="3.1"/>
<circle cx="591.3" cy="206.2" r="3.1"/>
<circle cx="586.2" cy="219.9" r="3.1"/>
<circle cx="579.3" cy="223.9" r="3.1"/>
<circle cx="589.5" cy="224.7" r="3.1"/>
<circle cx="589.5" cy="227.0" r="3.1"/>
<circle cx="592.1" cy="236.2" r="3.1"/>
<circle cx="590.7" cy="252.6" r="3.1"/>
<circle cx="643.3" cy="43.3" r="3.1"/>
<circle cx="639.5" cy="83.1" r="3.1"/>
<circle cx="646.3" cy="79.8" r="3.1"/>
<circle cx="647.1" cy="82.8" r="3.1"/>
<circle cx="647.5" cy="87.9" r="3.1"/>
<circle cx="644.3" cy="101.3" r="3.1"/>
<circle cx="652.1" cy="100.1" r="3.1"/>
<circle cx="643.1" cy="107.6" r="3.1"/>
<circle cx="642.3" cy="110.9" r="3.1"/>
<circle cx="642.7" cy="111.4" r="3.1"/>
<circle cx="638.9" cy="113.3" r="3.1"/>
<circle cx="641.1" cy="113.3" r="3.1"/>
<circle cx="641.5" cy="117.8" r="3.1"/>
<circle cx="643.1" cy="125.8" r="3.1"/>
<circle cx="641.3" cy="129.4" r="3.1"/>
<circle cx="644.3" cy="130.0" r="3.1"/>
<circle cx="646.7" cy="129.5" r="3.1"/>
<circle cx="649.7" cy="128.9" r="3.1"/>
<circle cx="640.7" cy="133.0" r="3.1"/>
<circle cx="655.3" cy="133.0" r="3.1"/>
<circle cx="647.9" cy="139.5" r="3.1"/>
<circle cx="641.3" cy="152.1" r="3.1"/>
<circle cx="641.3" cy="158.1" r="3.1"/>
<circle cx="653.9" cy="153.0" r="3.1"/>
<circle cx="650.6" cy="157.5" r="3.1"/>
<circle cx="650.2" cy="158.0" r="3.1"/>
<circle cx="653.5" cy="160.5" r="3.1"/>
<circle cx="644.3" cy="167.7" r="3.1"/>
<circle cx="644.7" cy="168.0" r="3.1"/>
<circle cx="649.1" cy="169.5" r="3.1"/>
<circle cx="653.3" cy="169.9" r="3.1"/>
<circle cx="642.5" cy="169.0" r="3.1"/>
<circle cx="648.5" cy="171.3" r="3.1"/>
<circle cx="648.3" cy="171.6" r="3.1"/>
<circle cx="648.7" cy="171.0" r="3.1"/>
<circle cx="639.5" cy="174.3" r="3.1"/>
<circle cx="647.9" cy="175.8" r="3.1"/>
<circle cx="641.3" cy="183.8" r="3.1"/>
<circle cx="653.0" cy="191.9" r="3.1"/>
<circle cx="651.2" cy="199.9" r="3.1"/>
<circle cx="641.3" cy="202.0" r="3.1"/>
<circle cx="645.5" cy="223.5" r="3.1"/>
</g>
<rect x="53.9" y="28.0" width="310.1" height="246.4" fill="none" stroke="#4A4A4A" stroke-width="1.35"/>
<rect x="53.9" y="1.1" width="310.1" height="26.9" fill="#D9D9D9" stroke="#4A4A4A" stroke-width="1.35"/>
<line x1="53.3" x2="364.6" y1="28.0" y2="28.0" stroke="#303030" stroke-width="1.8"/>
<text x="208.9" y="19.2" font-size="14.35" text-anchor="middle" fill="#1A1A1A" stroke="#1A1A1A">Herbaceous</text>
<line x1="89.40" x2="89.40" y1="275.0" y2="279.59999999999997" stroke="#333" stroke-width="1.5"/>
<line x1="149.15" x2="149.15" y1="275.0" y2="279.59999999999997" stroke="#333" stroke-width="1.5"/>
<line x1="208.90" x2="208.90" y1="275.0" y2="279.59999999999997" stroke="#333" stroke-width="1.5"/>
<line x1="268.65" x2="268.65" y1="275.0" y2="279.59999999999997" stroke="#333" stroke-width="1.5"/>
<line x1="328.40" x2="328.40" y1="275.0" y2="279.59999999999997" stroke="#333" stroke-width="1.5"/>
<text transform="translate(89.4,297.6) rotate(15)" x="0" y="5" font-size="14" font-style="italic" text-anchor="middle" fill="#4D4D4D" stroke="#4D4D4D">&lt; 1</text>
<text transform="translate(149.2,297.6) rotate(15)" x="0" y="5" font-size="14" font-style="italic" text-anchor="middle" fill="#4D4D4D" stroke="#4D4D4D">1 - 100</text>
<text transform="translate(208.9,297.6) rotate(15)" x="0" y="5" font-size="14" font-style="italic" text-anchor="middle" fill="#4D4D4D" stroke="#4D4D4D">100 - 200</text>
<text transform="translate(268.6,297.6) rotate(15)" x="0" y="5" font-size="14" font-style="italic" text-anchor="middle" fill="#4D4D4D" stroke="#4D4D4D">200 - 300</text>
<text transform="translate(328.4,297.6) rotate(15)" x="0" y="5" font-size="14" font-style="italic" text-anchor="middle" fill="#4D4D4D" stroke="#4D4D4D">≥300</text>
<rect x="373.8" y="28.0" width="309.8" height="246.4" fill="none" stroke="#4A4A4A" stroke-width="1.35"/>
<rect x="373.8" y="1.1" width="309.8" height="26.9" fill="#D9D9D9" stroke="#4A4A4A" stroke-width="1.35"/>
<line x1="373.2" x2="684.2" y1="28.0" y2="28.0" stroke="#303030" stroke-width="1.8"/>
<text x="528.7" y="19.2" font-size="14.35" text-anchor="middle" fill="#1A1A1A" stroke="#1A1A1A">Needle-cast</text>
<line x1="409.20" x2="409.20" y1="275.0" y2="279.59999999999997" stroke="#333" stroke-width="1.5"/>
<line x1="468.97" x2="468.97" y1="275.0" y2="279.59999999999997" stroke="#333" stroke-width="1.5"/>
<line x1="528.75" x2="528.75" y1="275.0" y2="279.59999999999997" stroke="#333" stroke-width="1.5"/>
<line x1="588.52" x2="588.52" y1="275.0" y2="279.59999999999997" stroke="#333" stroke-width="1.5"/>
<line x1="648.30" x2="648.30" y1="275.0" y2="279.59999999999997" stroke="#333" stroke-width="1.5"/>
<text transform="translate(409.2,297.6) rotate(15)" x="0" y="5" font-size="14" font-style="italic" text-anchor="middle" fill="#4D4D4D" stroke="#4D4D4D">&lt; 1</text>
<text transform="translate(469.0,297.6) rotate(15)" x="0" y="5" font-size="14" font-style="italic" text-anchor="middle" fill="#4D4D4D" stroke="#4D4D4D">1 - 100</text>
<text transform="translate(528.8,297.6) rotate(15)" x="0" y="5" font-size="14" font-style="italic" text-anchor="middle" fill="#4D4D4D" stroke="#4D4D4D">100 - 200</text>
<text transform="translate(588.5,297.6) rotate(15)" x="0" y="5" font-size="14" font-style="italic" text-anchor="middle" fill="#4D4D4D" stroke="#4D4D4D">200 - 300</text>
<text transform="translate(648.3,297.6) rotate(15)" x="0" y="5" font-size="14" font-style="italic" text-anchor="middle" fill="#4D4D4D" stroke="#4D4D4D">≥300</text>
<line x1="49.1" x2="53.3" y1="263.90" y2="263.90" stroke="#333" stroke-width="1.5"/>
<text x="45.2" y="268.70" font-size="14.35" text-anchor="end" fill="#4D4D4D" stroke="#4D4D4D">0</text>
<line x1="49.1" x2="53.3" y1="224.10" y2="224.10" stroke="#333" stroke-width="1.5"/>
<text x="45.2" y="228.90" font-size="14.35" text-anchor="end" fill="#4D4D4D" stroke="#4D4D4D">100</text>
<line x1="49.1" x2="53.3" y1="184.30" y2="184.30" stroke="#333" stroke-width="1.5"/>
<text x="45.2" y="189.10" font-size="14.35" text-anchor="end" fill="#4D4D4D" stroke="#4D4D4D">200</text>
<line x1="49.1" x2="53.3" y1="144.50" y2="144.50" stroke="#333" stroke-width="1.5"/>
<text x="45.2" y="149.30" font-size="14.35" text-anchor="end" fill="#4D4D4D" stroke="#4D4D4D">300</text>
<line x1="49.1" x2="53.3" y1="104.70" y2="104.70" stroke="#333" stroke-width="1.5"/>
<text x="45.2" y="109.50" font-size="14.35" text-anchor="end" fill="#4D4D4D" stroke="#4D4D4D">400</text>
<line x1="49.1" x2="53.3" y1="64.90" y2="64.90" stroke="#333" stroke-width="1.5"/>
<text x="45.2" y="69.70" font-size="14.35" text-anchor="end" fill="#4D4D4D" stroke="#4D4D4D">500</text>
<text transform="translate(13.5,151.0) rotate(-90)" font-size="17.85" text-anchor="middle" fill="#000" stroke="#000">Fuel mass (g)</text>
<text x="369.3" y="328.1" font-size="17.8" text-anchor="middle" fill="#000" stroke="#000">Photoload estimate (g)</text>
</g>
</svg></body></html>
